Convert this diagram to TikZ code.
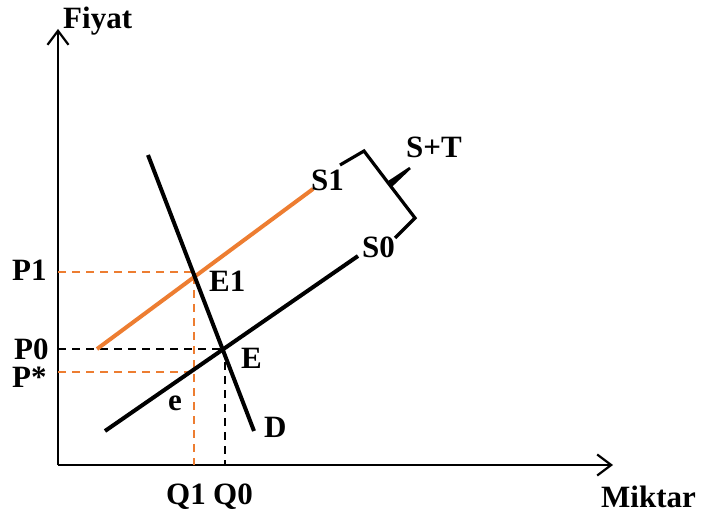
\documentclass[tikz,border=0pt]{standalone}
\usepackage{fontspec}
\setmainfont{Liberation Serif}
\usetikzlibrary{arrows.meta}
\definecolor{orng}{HTML}{ED7D31}
\begin{document}
\begin{tikzpicture}[x=1pt,y=-1pt,
  lbl/.style={font=\fontsize{31}{32}\selectfont\bfseries, inner sep=0pt, anchor=base west},
  axis/.style={line width=2.5pt,-{Straight Barb[length=14pt,width=21pt,line width=2.2pt]}},
  curve/.style={line width=4pt},
  ocurve/.style={curve, draw=orng},
  guide/.style={line width=1.6pt, dash pattern=on 8pt off 6pt},
  oguide/.style={guide, draw=orng},
  bracestyle/.style={line width=3.2pt, line join=miter}]
\useasboundingbox (0,0) rectangle (706,518);
% coordinates
\coordinate (O) at (58,465);
\coordinate (Ytip) at (58,29);
\coordinate (Xtip) at (613,465);
\coordinate (S0a) at (105,431);
\coordinate (S0b) at (358,256);
\coordinate (S1a) at (97,349);
\coordinate (S1b) at (313,189);
\coordinate (Da) at (148,155);
\coordinate (Db) at (254,431);
\coordinate (E) at (222,349);
\coordinate (E1) at (195,277);
\coordinate (P1y) at (58,272);
\coordinate (P1x) at (194,272);
\coordinate (Psy) at (58,372);
\coordinate (Psx) at (194,372);
\coordinate (P0y) at (58,349);
\coordinate (Q1) at (194,465);
\coordinate (Q0top) at (225,362);
\coordinate (Q0) at (225,465);
\coordinate (B1) at (340,165);
\coordinate (B2) at (364,151);
\coordinate (Bm) at (389,184);
\coordinate (B3) at (415,218);
\coordinate (B4) at (395,238);
\coordinate (Ta) at (386.6,182);
\coordinate (Tb) at (390.8,188);
\coordinate (Tc) at (410.8,169);
\coordinate (Td) at (409.2,167);
% axes
\draw[axis] (O) -- (Ytip);
\draw[axis] (O) -- (Xtip);
% guides
\draw[oguide] (P1y) -- (P1x) -- (Q1);
\draw[oguide] (Psy) -- (Psx);
\draw[guide] (P0y) -- (E);
\draw[guide] (Q0top) -- (Q0);
% curves
\draw[curve] (S0a) -- (S0b);
\draw[ocurve] (S1a) -- (S1b);
\draw[curve] (Da) -- (Db);
% brace
\draw[bracestyle] (B1) -- (B2) -- (Bm) -- (B3) -- (B4);
\fill (Ta) -- (Tb) -- (Tc) -- (Td) -- cycle;
% labels
\node[lbl] (fiyat) at (63,29) {Fiyat};
\node[lbl] (miktar) at (601,507) {Miktar};
\node[lbl] (p1) at (12,280) {P1};
\node[lbl] (p0) at (14,359) {P0};
\node[lbl] (ps) at (12,387) {P*};
\node[lbl] (e1) at (209,292) {E1};
\node[lbl] (e) at (241,368) {E};
\node[lbl] (esmall) at (168,410) {e};
\node[lbl] (d) at (264,437) {D};
\node[lbl] (q1) at (166,504) {Q1};
\node[lbl] (q0) at (213,504) {Q0};
\node[lbl] (s1) at (311,191) {S1};
\node[lbl] (s0) at (362,258) {S0};
\node[lbl] (st) at (406,158) {S+T};
\end{tikzpicture}
\end{document}
